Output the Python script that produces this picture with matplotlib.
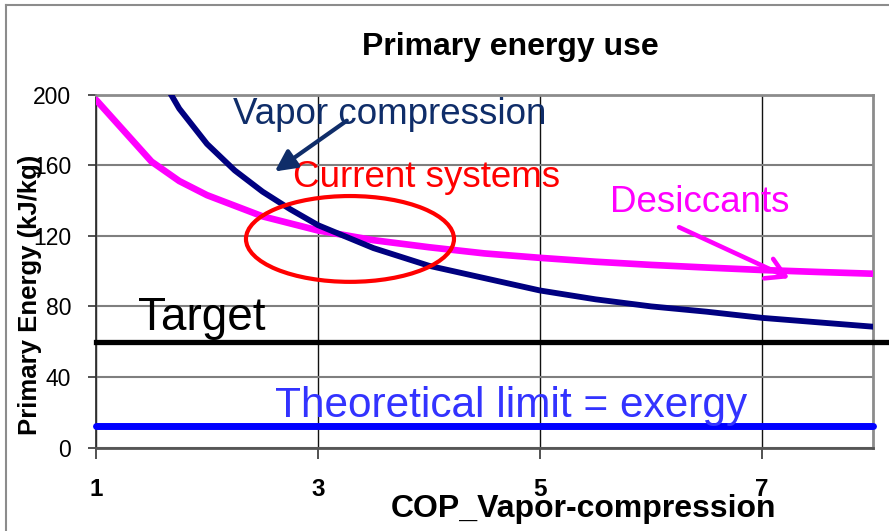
import matplotlib
matplotlib.use('Agg')
import matplotlib.pyplot as plt
import matplotlib.lines as mlines
from matplotlib.patches import Ellipse, FancyArrowPatch

plt.rcParams['font.family'] = ['Liberation Sans', 'DejaVu Sans']

# primary energy (kJ/kg) against COP of the vapor-compression machine
cop_vapor = [1.5, 1.75, 2, 2.25, 2.5, 2.75, 3, 3.5, 4, 4.5, 5, 5.5, 6, 6.5, 7, 7.5, 8]
pe_vapor = [219, 192, 172, 157, 145, 135, 126, 113, 103, 96, 89, 84, 80, 77, 73.5, 71, 68.5]

cop_desiccant = [1, 1.5, 1.75, 2, 2.5, 3, 3.5, 4, 4.5, 5, 5.5, 6, 6.5, 7, 7.5, 8]
pe_desiccant = [197, 162, 151, 143, 131, 123, 117.5, 113.5, 110, 107.5, 105.3, 103.5, 102, 100.6, 99.5, 98.5]

target_pe = 60
exergy_pe = 12

x_ticks = [1, 3, 5, 7]
y_ticks = [0, 40, 80, 120, 160, 200]

fig = plt.figure(figsize=(8.89, 5.31), dpi=100)
ax = fig.add_axes([0.108, 0.157, 0.874, 0.665])

ax.plot(cop_desiccant, pe_desiccant, color='#ff00ff', lw=4.8,
        solid_capstyle='round', solid_joinstyle='round', zorder=3)
ax.plot(cop_vapor, pe_vapor, color='#000080', lw=4.2,
        solid_capstyle='round', solid_joinstyle='round', zorder=3)
ax.plot([1, 8.3], [target_pe, target_pe], color='black', lw=3.8,
        clip_on=False, zorder=3)
ax.plot([1, 8], [exergy_pe, exergy_pe], color='#0000ff', lw=5,
        solid_capstyle='round', clip_on=False, zorder=3)

ax.set_xlim(1, 8)
ax.set_ylim(0, 200)
ax.set_xticks(x_ticks)
ax.set_yticks(y_ticks)
ax.set_xticklabels([str(t) for t in x_ticks], fontsize=17.5, fontweight='bold')
ax.set_yticklabels([str(t) for t in y_ticks], fontsize=16.5)
ax.tick_params(axis='x', direction='out', length=8, width=1.2, pad=14, color='#333333')
ax.tick_params(axis='y', direction='out', length=6, width=1.2, pad=12, color='#333333')

ax.grid(axis='y', color='#7f7f7f', lw=1.5)
ax.grid(axis='x', color='#111111', lw=1)
ax.set_axisbelow(True)
for side in ['top', 'right']:
    ax.spines[side].set_color('#8c8c8c')
    ax.spines[side].set_linewidth(2)
ax.spines['left'].set_color('#333333')
ax.spines['left'].set_linewidth(1.3)
ax.spines['bottom'].set_color('#555555')
ax.spines['bottom'].set_linewidth(2)

# annotations
ax.text(2.234, 183.3, 'Vapor compression', fontsize=26.5, color='#0f2d69')
ax.text(2.775, 147.6, 'Current systems', fontsize=26.5, color='#ff0000')
ax.text(5.63, 133.6, 'Desiccants', fontsize=26.5, color='#ff00ff')
ax.text(1.378, 66.6, 'Target', fontsize=33, color='black')
ax.text(2.613, 17.5, 'Theoretical limit = exergy', fontsize=30.5, color='#3333ff')

ax.add_patch(Ellipse((3.288, 118.2), 1.874, 48.6, fill=False, ec='#ff0000',
                     lw=3, zorder=4))
ax.add_patch(FancyArrowPatch((3.28, 186.1), (2.59, 155.5), arrowstyle='-|>',
                             mutation_scale=32, color='#0f2d69', lw=3, zorder=4))
ax.add_patch(FancyArrowPatch((6.23, 125.5), (7.27, 95.3),
                             arrowstyle='->,head_length=0.6,head_width=0.35',
                             mutation_scale=22, color='#ff00ff', lw=3.3,
                             capstyle='round', zorder=4))

fig.text(510 / 889, 1 - 47 / 531, 'Primary energy use', ha='center', va='center',
         fontsize=23, fontweight='bold')
fig.text(584 / 889, 1 - 509 / 531, 'COP_Vapor-compression', ha='center', va='center',
         fontsize=23, fontweight='bold')
fig.text(30 / 889, 1 - 295 / 531, 'Primary Energy (kJ/kg)', ha='center', va='center',
         rotation=90, fontsize=18.5, fontweight='bold')

# chart frame edges
fig.add_artist(mlines.Line2D([6 / 889, 6 / 889], [0, 1 - 5 / 531], color='#8c8c8c', lw=1.5))
fig.add_artist(mlines.Line2D([6 / 889, 1], [1 - 5 / 531, 1 - 5 / 531], color='#8c8c8c', lw=1.5))

fig.savefig('out.png', dpi=100)
